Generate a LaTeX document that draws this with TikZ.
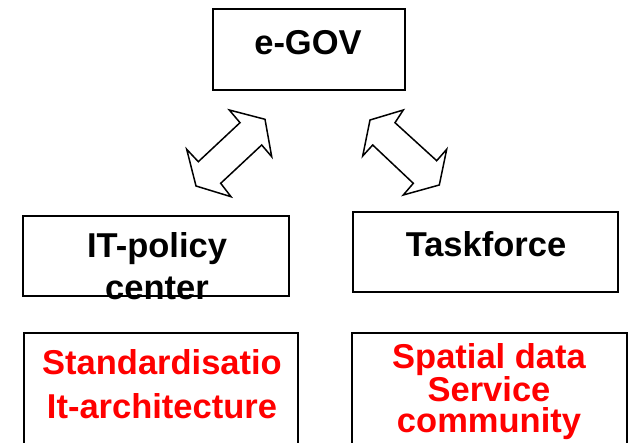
\documentclass[tikz,border=0pt]{standalone}
\usepackage{fontspec}
\setmainfont{Liberation Sans}
\begin{document}
\begin{tikzpicture}[x=1pt,y=-1pt,
  box/.style={draw=black,line width=1.6pt,inner sep=0pt,outer sep=0pt,fill=white},
  lbl/.style={anchor=base,inner sep=0pt,align=center,font=\bfseries\fontsize{34.5}{35}\selectfont},
  redlbl/.style={lbl,text={rgb,255:red,255;green,0;blue,0}},
  blockarrow/.style={draw=black,line width=1.5pt,line join=miter,fill=white}]
\useasboundingbox (0,0) rectangle (629,443);
\clip (0,0) rectangle (629,443);
% boxes
\node[box,minimum width=192pt,minimum height=81pt] (egov) at (309,49.5) {};
\node[box,minimum width=266pt,minimum height=80pt] (itp) at (156,256) {};
\node[box,minimum width=265pt,minimum height=80pt] (task) at (485.5,252) {};
\node[box,minimum width=274pt,minimum height=127pt] (std) at (161,396.5) {};
\node[box,minimum width=275pt,minimum height=127pt] (spat) at (489.5,396.5) {};
% labels (base anchor = baseline of the last line)
\node[lbl] (tegov) at (308,55) {e-GOV};
\node[lbl,font=\bfseries\fontsize{34.5}{42}\selectfont] (titp) at (157,300) {IT-policy\\center};
\node[lbl] (ttask) at (486,257) {Taskforce};
\node[redlbl,font=\bfseries\fontsize{34.5}{44}\selectfont] (tstd) at (162,418.5) {Standardisatio\\It-architecture};
\node[redlbl,font=\bfseries\fontsize{34.5}{30.5}\selectfont] (tspat) at (489,432) {Spatial data\\Service\\community};
% redraw the bottom edge of the IT-policy box over its text, as in the reference
\draw[line width=1.6pt] (itp.south west) -- (itp.south east);
% block double arrows
\draw[blockarrow] (229.3,110) -- (240,122.7) -- (198.3,161.7) -- (186.7,149.3) -- (196,186)
  -- (231,196.7) -- (220.7,183.3) -- (261.7,145) -- (271.7,156.7) -- (265,119.3) -- cycle;
\draw[blockarrow] (403.3,110) -- (395,122.7) -- (436.7,160.7) -- (446.7,149.3) -- (439.3,185)
  -- (403.3,195) -- (413.3,183.3) -- (372.7,145) -- (362.7,156) -- (370,120) -- cycle;
\end{tikzpicture}
\end{document}
